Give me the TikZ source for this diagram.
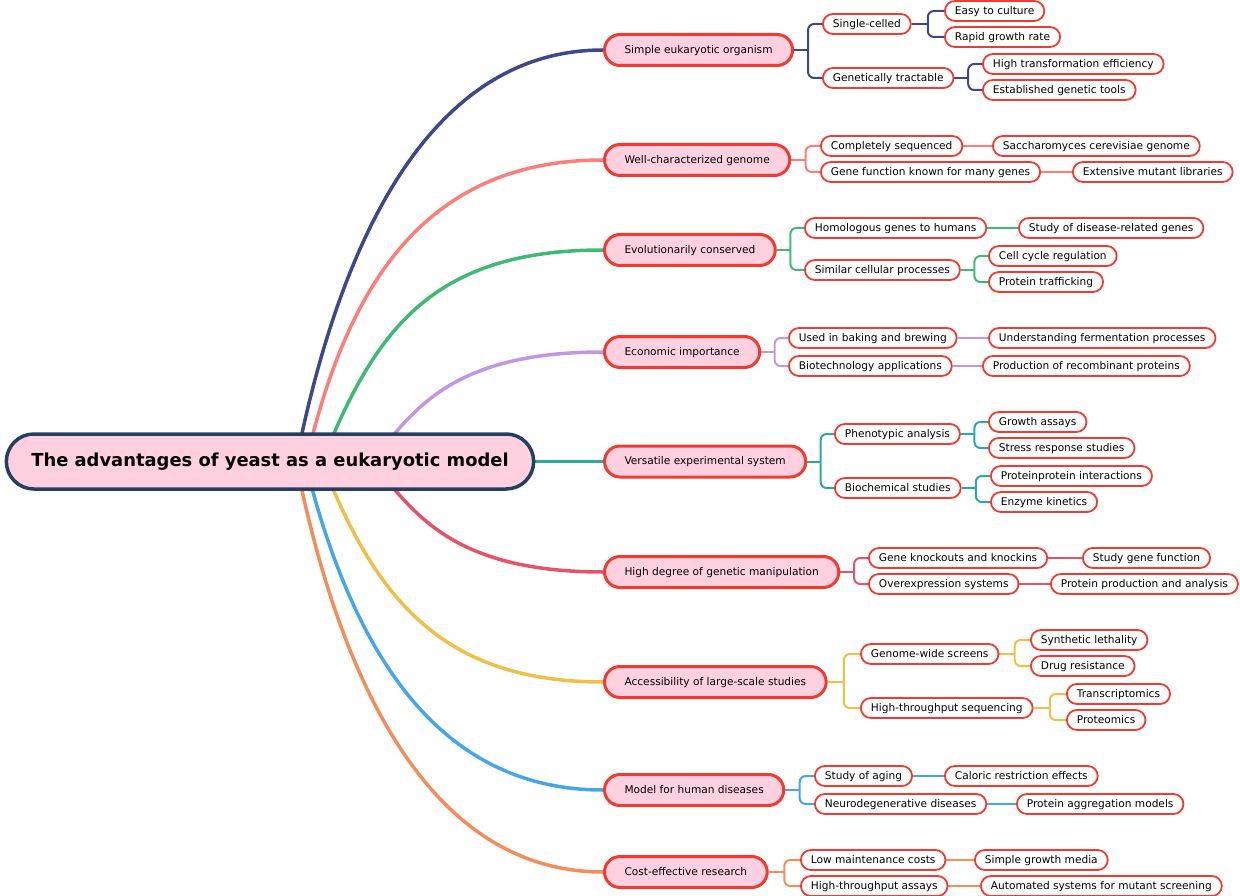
\documentclass[tikz,border=0pt]{standalone}
\usepackage{fontspec}
\setmainfont{DejaVu Sans}
\usetikzlibrary{calc}
\pgfdeclarelayer{bg}
\pgfsetlayers{bg,main}
\definecolor{nodered}{HTML}{F23B2F}
\definecolor{pinkfill}{HTML}{FFD0DF}
\definecolor{rootborder}{HTML}{25405E}
\definecolor{cA}{HTML}{3E4788}
\definecolor{cB}{HTML}{FD7D78}
\definecolor{cC}{HTML}{40B876}
\definecolor{cD}{HTML}{C197E2}
\definecolor{cE}{HTML}{2AA9A1}
\definecolor{cF}{HTML}{E4536A}
\definecolor{cG}{HTML}{F0BF48}
\definecolor{cH}{HTML}{47A6E8}
\definecolor{cI}{HTML}{F28D5C}
\newcommand\twiglink[3]{%
  \coordinate (tmpM) at ($(#2.east)!0.5!(#3.west)$);
  \draw[twig,#1] (#2.east) -- (tmpM |- #2.east);
  \draw[twig,#1,rounded corners=6pt] (tmpM |- #2.east) |- (#3.west);}
\newcommand\straightlink[3]{\draw[twig,#1] (#2.east) -- (#3.west);}
\begin{document}
\begin{tikzpicture}[x=1pt,y=-1pt,
 rootnode/.style={draw=rootborder, line width=3.5pt, fill=pinkfill, rounded corners=27.5pt, minimum height=55pt, inner xsep=25pt, font=\fontsize{17.9}{21}\selectfont\bfseries, text=black},
 mainnode/.style={draw=nodered, line width=3pt, fill=pinkfill, rounded corners=15.5pt, minimum height=31pt, inner xsep=20pt, anchor=west, font=\fontsize{10.6}{12}\selectfont, text=black, text height=8.5pt, text depth=1.7pt},
 subnode/.style={draw=nodered, line width=1.8pt, fill=white, rounded corners=10pt, minimum height=20pt, inner xsep=10pt, inner ysep=0pt, anchor=west, font=\fontsize{10.6}{12}\selectfont, text=black, text height=8.5pt, text depth=1.7pt},
 trunk/.style={line width=3.5pt},
 twig/.style={line width=2pt}
]
\useasboundingbox (0,0) rectangle (1240,896);

\node[rootnode] (root) at (270,461.5) {The advantages of yeast as a eukaryotic model};

\node[mainnode] (b1) at (603,50) {Simple eukaryotic organism};
\node[mainnode] (b2) at (603,160) {Well-characterized genome};
\node[mainnode] (b3) at (603,250) {Evolutionarily conserved};
\node[mainnode] (b4) at (603,352) {Economic importance};
\node[mainnode] (b5) at (603,461.5) {Versatile experimental system};
\node[mainnode] (b6) at (603,572) {High degree of genetic manipulation};
\node[mainnode] (b7) at (603,682) {Accessibility of large-scale studies};
\node[mainnode] (b8) at (603,790) {Model for human diseases};
\node[mainnode] (b9) at (603,872) {Cost-effective research};

\node[subnode] (s11) at (822,24) {Single-celled};
\node[subnode] (s12) at (822,78) {Genetically tractable};
\node[subnode] (l111) at (944,11) {Easy to culture};
\node[subnode] (l112) at (944,37) {Rapid growth rate};
\node[subnode] (l121) at (982,64) {High transformation efficiency};
\node[subnode] (l122) at (982,90) {Established genetic tools};

\node[subnode] (s21) at (820,146) {Completely sequenced};
\node[subnode] (s22) at (820,172) {Gene function known for many genes};
\node[subnode] (l211) at (992,146) {Saccharomyces cerevisiae genome};
\node[subnode] (l221) at (1072,172) {Extensive mutant libraries};

\node[subnode] (s31) at (804,228) {Homologous genes to humans};
\node[subnode] (s32) at (804,270) {Similar cellular processes};
\node[subnode] (l311) at (1018,228) {Study of disease-related genes};
\node[subnode] (l321) at (988,256) {Cell cycle regulation};
\node[subnode] (l322) at (988,282) {Protein trafficking};

\node[subnode] (s41) at (788,338) {Used in baking and brewing};
\node[subnode] (s42) at (788,366) {Biotechnology applications};
\node[subnode] (l411) at (988,338) {Understanding fermentation processes};
\node[subnode] (l421) at (982,366) {Production of recombinant proteins};

\node[subnode] (s51) at (834,434) {Phenotypic analysis};
\node[subnode] (s52) at (834,488) {Biochemical studies};
\node[subnode] (l511) at (988,422) {Growth assays};
\node[subnode] (l512) at (988,448) {Stress response studies};
\node[subnode] (l521) at (990,476) {Proteinprotein interactions};
\node[subnode] (l522) at (990,502) {Enzyme kinetics};

\node[subnode] (s61) at (868,558) {Gene knockouts and knockins};
\node[subnode] (s62) at (868,584) {Overexpression systems};
\node[subnode] (l611) at (1082,558) {Study gene function};
\node[subnode] (l621) at (1050,584) {Protein production and analysis};

\node[subnode] (s71) at (860,654) {Genome-wide screens};
\node[subnode] (s72) at (860,708) {High-throughput sequencing};
\node[subnode] (l711) at (1030,640) {Synthetic lethality};
\node[subnode] (l712) at (1030,666) {Drug resistance};
\node[subnode] (l721) at (1066,694) {Transcriptomics};
\node[subnode] (l722) at (1066,720) {Proteomics};

\node[subnode] (s81) at (814,776) {Study of aging};
\node[subnode] (s82) at (814,804) {Neurodegenerative diseases};
\node[subnode] (l811) at (944,776) {Caloric restriction effects};
\node[subnode] (l821) at (1016,804) {Protein aggregation models};

\node[subnode] (s91) at (800,860) {Low maintenance costs};
\node[subnode] (s92) at (800,886) {High-throughput assays};
\node[subnode] (l911) at (974,860) {Simple growth media};
\node[subnode] (l921) at (980,886) {Automated systems for mutant screening};

\coordinate (r1) at ([xshift=26pt,yshift=-0.5pt]root.center);
\coordinate (r2) at ([xshift=36pt,yshift=-0.5pt]root.center);
\coordinate (r3) at ([xshift=52pt,yshift=-0.5pt]root.center);
\coordinate (r4) at ([xshift=100pt,yshift=-0.5pt]root.center);
\coordinate (r6) at ([xshift=100pt,yshift=-0.5pt]root.center);
\coordinate (r7) at ([xshift=52pt,yshift=-0.5pt]root.center);
\coordinate (r8) at ([xshift=35pt,yshift=-0.5pt]root.center);
\coordinate (r9) at ([xshift=26pt,yshift=-0.5pt]root.center);

\begin{pgfonlayer}{bg}
\draw[trunk,cA] (r1) .. controls (340,240) and (430,50) .. (b1.west);
\draw[trunk,cB] (r2) .. controls (347,285) and (425,160) .. (b2.west);
\draw[trunk,cC] (r3) .. controls (375,330) and (432,250) .. (b3.west);
\draw[trunk,cD] (r4) .. controls (410,420) and (440,352) .. (b4.west);
\draw[trunk,cE] (root.east) -- (b5.west);
\draw[trunk,cF] (r6) .. controls (410,502) and (440,572) .. (b6.west);
\draw[trunk,cG] (r7) .. controls (375,598) and (442,682) .. (b7.west);
\draw[trunk,cH] (r8) .. controls (349,638) and (430,790) .. (b8.west);
\draw[trunk,cI] (r9) .. controls (340,682) and (430,872) .. (b9.west);

\twiglink{cA}{b1}{s11}
\twiglink{cA}{b1}{s12}
\twiglink{cA}{s11}{l111}
\twiglink{cA}{s11}{l112}
\twiglink{cA}{s12}{l121}
\twiglink{cA}{s12}{l122}

\twiglink{cB}{b2}{s21}
\twiglink{cB}{b2}{s22}
\straightlink{cB}{s21}{l211}
\straightlink{cB}{s22}{l221}

\twiglink{cC}{b3}{s31}
\twiglink{cC}{b3}{s32}
\straightlink{cC}{s31}{l311}
\twiglink{cC}{s32}{l321}
\twiglink{cC}{s32}{l322}

\twiglink{cD}{b4}{s41}
\twiglink{cD}{b4}{s42}
\straightlink{cD}{s41}{l411}
\straightlink{cD}{s42}{l421}

\twiglink{cE}{b5}{s51}
\twiglink{cE}{b5}{s52}
\twiglink{cE}{s51}{l511}
\twiglink{cE}{s51}{l512}
\twiglink{cE}{s52}{l521}
\twiglink{cE}{s52}{l522}

\twiglink{cF}{b6}{s61}
\twiglink{cF}{b6}{s62}
\straightlink{cF}{s61}{l611}
\straightlink{cF}{s62}{l621}

\twiglink{cG}{b7}{s71}
\twiglink{cG}{b7}{s72}
\twiglink{cG}{s71}{l711}
\twiglink{cG}{s71}{l712}
\twiglink{cG}{s72}{l721}
\twiglink{cG}{s72}{l722}

\twiglink{cH}{b8}{s81}
\twiglink{cH}{b8}{s82}
\straightlink{cH}{s81}{l811}
\straightlink{cH}{s82}{l821}

\twiglink{cI}{b9}{s91}
\twiglink{cI}{b9}{s92}
\straightlink{cI}{s91}{l911}
\straightlink{cI}{s92}{l921}
\end{pgfonlayer}
\end{tikzpicture}
\end{document}
